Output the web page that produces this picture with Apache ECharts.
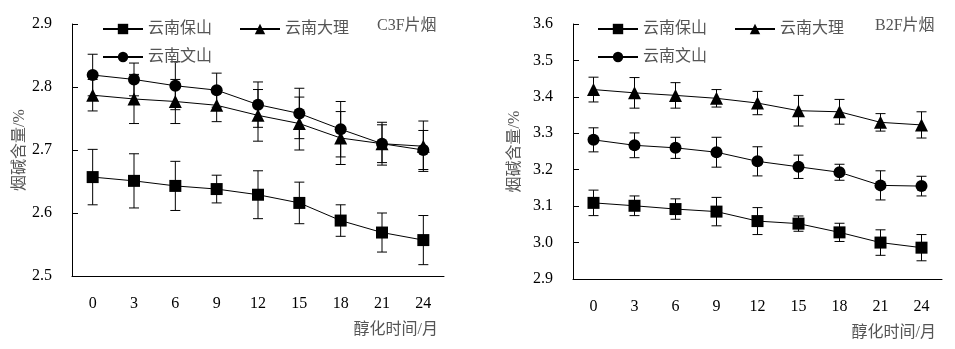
<!DOCTYPE html>
<html><head><meta charset="utf-8">
<script src="https://cdn.jsdelivr.net/npm/echarts@6/dist/echarts.min.js"></script>
<style>html,body{margin:0;padding:0;background:#fff}#c{width:955px;height:349px}</style>
</head><body><div id="c"></div>
<script>
const months = ['0','3','6','9','12','15','18','21','24'];
const seriesNames = ['云南保山','云南大理','云南文山'];
// C3F
const c3fBaoshan = [2.657,2.651,2.643,2.638,2.629,2.616,2.588,2.569,2.557];
const c3fBaoshanErr = [0.044,0.043,0.039,0.022,0.038,0.033,0.025,0.031,0.039];
const c3fDali = [2.787,2.781,2.777,2.771,2.755,2.742,2.719,2.710,2.706];
const c3fDaliErr = [0.025,0.039,0.035,0.026,0.041,0.042,0.042,0.030,0.040];
const c3fWenshan = [2.819,2.812,2.802,2.795,2.772,2.758,2.733,2.710,2.700];
const c3fWenshanErr = [0.033,0.026,0.038,0.027,0.036,0.040,0.044,0.034,0.031];
// B2F
const b2fBaoshan = [3.109,3.101,3.092,3.085,3.059,3.052,3.028,3.000,2.986];
const b2fBaoshanErr = [0.035,0.027,0.028,0.039,0.037,0.021,0.025,0.035,0.036];
const b2fDali = [3.420,3.411,3.404,3.396,3.383,3.362,3.359,3.330,3.323];
const b2fDaliErr = [0.034,0.042,0.035,0.024,0.032,0.042,0.034,0.024,0.036];
const b2fWenshan = [3.282,3.267,3.260,3.248,3.223,3.208,3.193,3.157,3.155];
const b2fWenshanErr = [0.033,0.034,0.029,0.041,0.040,0.032,0.022,0.040,0.027];
const yTicksLeft = [2.5,2.6,2.7,2.8,2.9];
const yTicksRight = [2.9,3.0,3.1,3.2,3.3,3.4,3.5,3.6];
const panelTags = ['C3F片烟','B2F片烟'];
const xName = '醇化时间/月';
const yName = '烟碱含量/%';

const NUM = 'Liberation Serif';
const CJK = '"Liberation Serif","Noto Sans CJK SC"';
const chart = echarts.init(document.getElementById('c'), null, {renderer:'canvas'});

function errData(v, e){ return v.map((x,i)=>[i, x-e[i], x+e[i]]); }
function errSeries(v, e, gi){
  return {type:'custom', xAxisIndex:gi, yAxisIndex:gi, silent:true, z:1,
    data: errData(v,e),
    renderItem:function(params, api){
      const lo = api.coord([api.value(0), api.value(1)]);
      const hi = api.coord([api.value(0), api.value(2)]);
      const w = 5;
      const st = {stroke:'#000', lineWidth:1};
      return {type:'group', children:[
        {type:'line', shape:{x1:lo[0],y1:lo[1],x2:hi[0],y2:hi[1]}, style:st},
        {type:'line', shape:{x1:lo[0]-w,y1:lo[1],x2:lo[0]+w,y2:lo[1]}, style:st},
        {type:'line', shape:{x1:hi[0]-w,y1:hi[1],x2:hi[0]+w,y2:hi[1]}, style:st}
      ]};
    }};
}
const symbols = ['rect','triangle','circle'];
const sizes = [12,13,12];
function lineSeries(name, v, gi, k){
  return {type:'line', name:name, xAxisIndex:gi, yAxisIndex:gi, data:v,
    symbol:symbols[k], symbolSize:sizes[k], z:3,
    itemStyle:{color:'#000'}, lineStyle:{color:'#000', width:1}};
}
function xAxis(gi){
  return {type:'category', gridIndex:gi, data:months, boundaryGap:true,
    axisLine:{lineStyle:{color:'#000',width:1}},
    axisTick:{inside:true, length:6, lineStyle:{color:'#000'}},
    axisLabel:{fontFamily:NUM, fontSize:16, color:'#000', margin:20},
    name:xName, nameLocation:'end', nameGap:-6,
    nameTextStyle:{fontFamily:CJK, fontSize:16, color:'#555', align:'right', verticalAlign:'top', padding:[46,0,0,0]},
    splitLine:{show:false}};
}
function yAxis(gi, ticks, gap){
  return {type:'value', gridIndex:gi, min:ticks[0], max:ticks[ticks.length-1], interval:0.1,
    axisLine:{show:true, lineStyle:{color:'#000',width:1}},
    axisTick:{show:true, inside:true, length:6, lineStyle:{color:'#000'}},
    axisLabel:{fontFamily:NUM, fontSize:16, color:'#000', margin:20, formatter:v=>v.toFixed(1)},
    splitLine:{show:false},
    name:yName, nameLocation:'middle', nameGap:gap,
    nameTextStyle:{fontFamily:CJK, fontSize:16, color:'#555'}};
}
const legendText = {fontFamily:CJK, fontSize:16, color:'#555'};
function legends(gi, left){
  return [
    {left:left, top:16, itemWidth:40, itemHeight:13, itemGap:27, data:[seriesNames[0],seriesNames[1]], textStyle:legendText, selectedMode:false},
    {left:left, top:44, itemWidth:40, itemHeight:13, data:[seriesNames[2]], textStyle:legendText, selectedMode:false}
  ];
}
chart.setOption({
  animation:false,
  backgroundColor:'#fff',
  grid:[{left:72, top:24, width:372, height:252},{left:573, top:24, width:369, height:255}],
  xAxis:[xAxis(0), xAxis(1)],
  yAxis:[yAxis(0, yTicksLeft, 44), yAxis(1, yTicksRight, 50)],
  legend:[...legends(0,97), ...legends(1,592)],
  title:[
    {text:panelTags[0], left:372, top:13, textStyle:{fontFamily:CJK, fontSize:16, fontWeight:'normal', color:'#555'}},
    {text:panelTags[1], left:870, top:13, textStyle:{fontFamily:CJK, fontSize:16, fontWeight:'normal', color:'#555'}}
  ],
  series:[
    errSeries(c3fBaoshan,c3fBaoshanErr,0), errSeries(c3fDali,c3fDaliErr,0), errSeries(c3fWenshan,c3fWenshanErr,0),
    lineSeries(seriesNames[0], c3fBaoshan, 0, 0), lineSeries(seriesNames[1], c3fDali, 0, 1), lineSeries(seriesNames[2], c3fWenshan, 0, 2),
    errSeries(b2fBaoshan,b2fBaoshanErr,1), errSeries(b2fDali,b2fDaliErr,1), errSeries(b2fWenshan,b2fWenshanErr,1),
    lineSeries(seriesNames[0], b2fBaoshan, 1, 0), lineSeries(seriesNames[1], b2fDali, 1, 1), lineSeries(seriesNames[2], b2fWenshan, 1, 2)
  ]
});
</script></body></html>
